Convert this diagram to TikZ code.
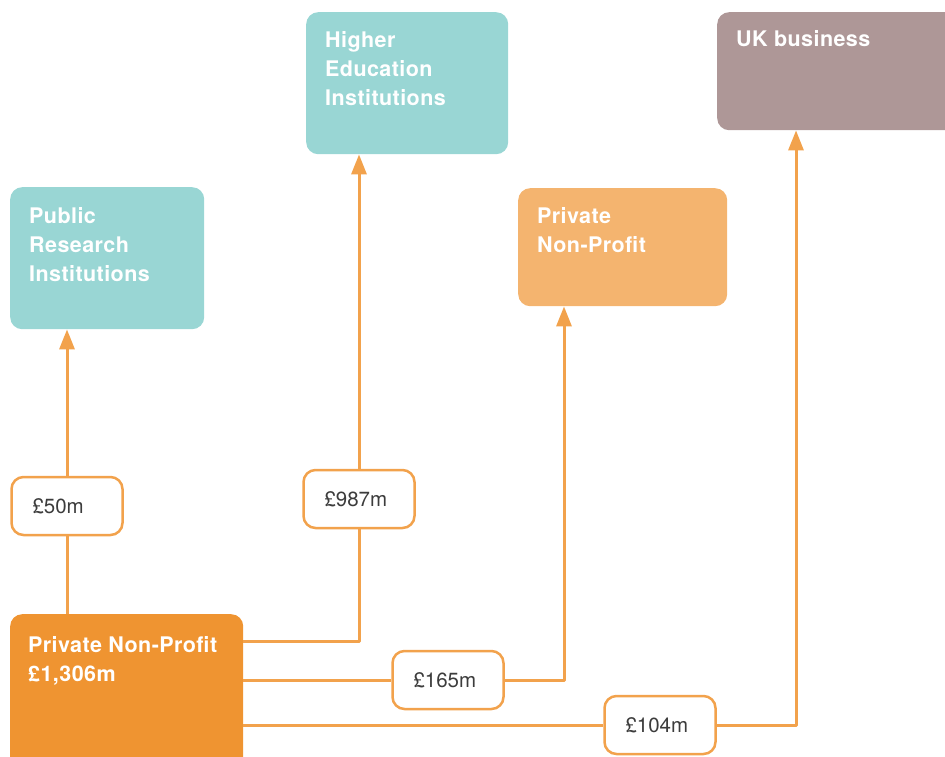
\documentclass[tikz,border=0pt]{standalone}
\usepackage{fontspec}
\setmainfont{TeX Gyre Heros}
\usetikzlibrary{arrows.meta,positioning}
\definecolor{boxteal}{HTML}{99D6D4}
\definecolor{boxpeach}{HTML}{F4B46F}
\definecolor{boxmauve}{HTML}{AE9797}
\definecolor{boxorange}{HTML}{EF9431}
\definecolor{flowline}{HTML}{F2A24C}
\definecolor{amttext}{HTML}{3C3C3C}
\begin{document}
\begin{tikzpicture}[x=1pt,y=-1pt,line join=round,
		box/.style={rounded corners=12pt,inner sep=0pt,anchor=north west},
		boxtext/.style={anchor=north west,inner sep=0pt,align=left,text=white,font=\fontsize{21.5}{29}\selectfont\bfseries\addfontfeature{LetterSpace=2}},
		amount/.style={draw=flowline,line width=2.5pt,fill=white,rounded corners=12pt,minimum width=111pt,minimum height=58pt,text width=69pt,inner xsep=21pt,align=left,text=amttext,font=\fontsize{20.5}{24}\selectfont},
		flow/.style={draw=flowline,line width=3pt},
		>={Triangle[width=15pt,length=20pt]}]
	\useasboundingbox (0,0) rectangle (945,757);
	\node[box,fill=boxteal,minimum width=194pt,minimum height=142pt] (pri) at (10,187) {};
	\node[box,fill=boxteal,minimum width=202pt,minimum height=142pt] (hei) at (306,12) {};
	\node[box,fill=boxpeach,minimum width=209pt,minimum height=118pt] (pnp) at (518,188) {};
	\node[box,fill=boxmauve,minimum width=240pt,minimum height=118pt] (ukb) at (717,12) {};
	\node[box,fill=boxorange,minimum width=233pt,minimum height=160pt] (src) at (10,614) {};
	\node[boxtext] at ([xshift=19pt,yshift=-20pt]pri.north west) {Public\\Research\\Institutions};
	\node[boxtext] at ([xshift=19pt,yshift=-19pt]hei.north west) {Higher\\Education\\Institutions};
	\node[boxtext] at ([xshift=19pt,yshift=-19pt]pnp.north west) {Private\\Non-Profit};
	\node[boxtext] at ([xshift=19pt,yshift=-18pt]ukb.north west) {UK business};
	\node[boxtext] at ([xshift=18pt,yshift=-22pt]src.north west) {Private Non-Profit\\£1,306m};
	\node[amount] (a50) at (67,506) {£50m};
	\node[amount] (a987) at (359,499) {£987m};
	\node[amount] (a165) at (448,680) {£165m};
	\node[amount] (a104) at (660,725) {£104m};
	\draw[flow] (src.north -| a50) -- (a50.south);
	\draw[flow,->] (a50.north) -- (a50.north |- pri.south);
	\draw[flow] ([yshift=-27pt]src.north east) -| (a987.south);
	\draw[flow,->] (a987.north) -- (a987.north |- hei.south);
	\draw[flow] (src.east |- a165) -- (a165.west);
	\draw[flow,->] (a165.east) -| ([xshift=46pt]pnp.south west);
	\draw[flow] (src.east |- a104) -- (a104.west);
	\draw[flow,->] (a104.east) -| ([xshift=79pt]ukb.south west);
\end{tikzpicture}
\end{document}
